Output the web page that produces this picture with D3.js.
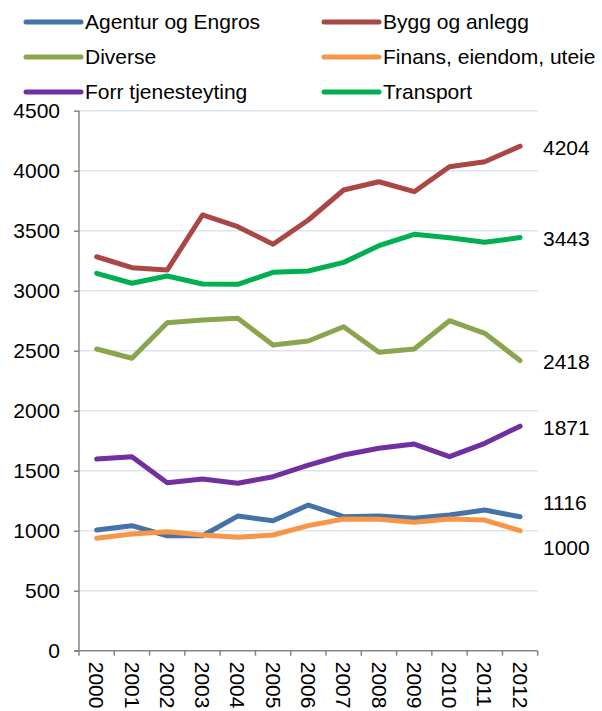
<!DOCTYPE html>
<html>
<head>
<meta charset="utf-8">
<script src="https://cdn.jsdelivr.net/npm/d3@7"></script>
<style>
  body { margin: 0; background: #fff; }
  text { font-family: "Liberation Sans", Arial, sans-serif; fill: #000; }
</style>
</head>
<body>
<svg></svg>
<script>
var WIDTH = 602;
var HEIGHT = 711;

var years = [2000,2001,2002,2003,2004,2005,2006,2007,2008,2009,2010,2011,2012];
var yTicks = [0,500,1000,1500,2000,2500,3000,3500,4000,4500];

var seriesNames = ['Agentur og Engros','Bygg og anlegg','Diverse','Finans, eiendom, uteie','Forr tjenesteyting','Transport'];
var seriesColors = ['#4572A7','#AA4643','#89A54E','#F79646','#7030A0','#00B050'];

var agentur   = [1006,1042,958,958,1122,1083,1214,1117,1122,1103,1131,1172,1116];
var bygg      = [3283,3192,3172,3631,3533,3387,3589,3839,3908,3825,4033,4075,4204];
var diverse   = [2514,2437,2733,2756,2770,2548,2581,2700,2487,2514,2750,2645,2418];
var finans    = [937,972,992,964,945,964,1042,1097,1095,1070,1097,1089,1000];
var forr      = [1597,1617,1400,1431,1395,1450,1547,1631,1687,1722,1617,1728,1871];
var transport = [3145,3062,3122,3056,3053,3153,3164,3236,3375,3470,3442,3403,3443];

var allSeries = [agentur, bygg, diverse, finans, forr, transport];

var plotLeft = 79, plotRight = 537.7, plotTop = 110.7, plotBottom = 650.7;

var svg = d3.select('svg')
  .attr('width', WIDTH)
  .attr('height', HEIGHT);

var xScale = d3.scaleBand().domain(years).range([plotLeft, plotRight]);
var yScale = d3.scaleLinear().domain([0, 4500]).range([plotBottom, plotTop]);
var xc = function(yr){ return xScale(yr) + xScale.bandwidth() / 2; };

// gridlines
svg.append('g').selectAll('line')
  .data(yTicks.filter(function(d){ return d > 0; }))
  .enter().append('line')
  .attr('x1', plotLeft).attr('x2', plotRight)
  .attr('y1', function(d){ return yScale(d); })
  .attr('y2', function(d){ return yScale(d); })
  .attr('stroke', '#dce4f0')
  .attr('stroke-width', 1.5);

// left axis
var leftAxis = d3.axisLeft(yScale).tickValues(yTicks).tickSize(5).tickPadding(14).tickFormat(d3.format('d'));
var gy = svg.append('g').attr('transform', 'translate(' + plotLeft + ',0)').call(leftAxis);
gy.select('.domain').attr('stroke', '#868686').attr('stroke-width', 1.5).attr('d', 'M0,' + plotTop + 'V' + plotBottom);
gy.selectAll('.tick line').attr('stroke', '#868686').attr('stroke-width', 1.5);
gy.selectAll('.tick text')
  .style('font-family', '"Liberation Sans", Arial, sans-serif')
  .style('font-size', '21px').attr('fill', '#000');

// bottom axis
svg.append('line')
  .attr('x1', plotLeft - 5).attr('x2', plotRight)
  .attr('y1', plotBottom).attr('y2', plotBottom)
  .attr('stroke', '#868686').attr('stroke-width', 1.5);
var bounds = years.map(function(d){ return xScale(d); }).concat([plotRight]);
svg.append('g').selectAll('line')
  .data(bounds).enter().append('line')
  .attr('x1', function(d){ return d; }).attr('x2', function(d){ return d; })
  .attr('y1', plotBottom).attr('y2', plotBottom + 5)
  .attr('stroke', '#868686').attr('stroke-width', 1.5);
svg.append('g').selectAll('text')
  .data(years).enter().append('text')
  .attr('transform', function(d){ return 'translate(' + xc(d) + ',' + (plotBottom + 11) + ') rotate(90)'; })
  .attr('dy', '0.35em')
  .style('font-size', '21px')
  .text(function(d){ return d; });

// lines
var line = d3.line()
  .x(function(d, i){ return xc(years[i]); })
  .y(function(d){ return yScale(d); });

svg.append('g').selectAll('path')
  .data(allSeries).enter().append('path')
  .attr('d', line)
  .attr('fill', 'none')
  .attr('stroke', function(d, i){ return seriesColors[i]; })
  .attr('stroke-width', 5)
  .attr('stroke-linejoin', 'round')
  .attr('stroke-linecap', 'round');

// end labels, nudged apart when they collide
var labels = allSeries.map(function(s){
  var v = s[s.length - 1];
  return { value: v, y: yScale(v) };
}).sort(function(a, b){ return a.y - b.y; });
var gap = 45;
for (var k = 0; k < 50; k++) {
  for (var j = 1; j < labels.length; j++) {
    var diff = labels[j].y - labels[j - 1].y;
    if (diff < gap) {
      var push = (gap - diff) / 2;
      labels[j].y += push;
      labels[j - 1].y -= push;
    }
  }
}
svg.append('g').selectAll('text')
  .data(labels).enter().append('text')
  .attr('x', 543)
  .attr('y', function(d){ return d.y + 1; })
  .attr('dy', '0.35em')
  .style('font-size', '21px')
  .text(function(d){ return d.value; });

// legend
var legend = svg.append('g').selectAll('g')
  .data(seriesNames).enter().append('g')
  .attr('transform', function(d, i){
    return 'translate(' + (i % 2 === 0 ? 26 : 324) + ',' + (22 + Math.floor(i / 2) * 35) + ')';
  });
legend.append('line')
  .attr('x1', 0).attr('x2', 55)
  .attr('stroke', function(d, i){ return seriesColors[i]; })
  .attr('stroke-width', 5)
  .attr('stroke-linecap', 'round');
legend.append('text')
  .attr('x', 59)
  .attr('dy', '0.35em')
  .style('font-size', '21px')
  .text(function(d){ return d; });
</script>
</body>
</html>
